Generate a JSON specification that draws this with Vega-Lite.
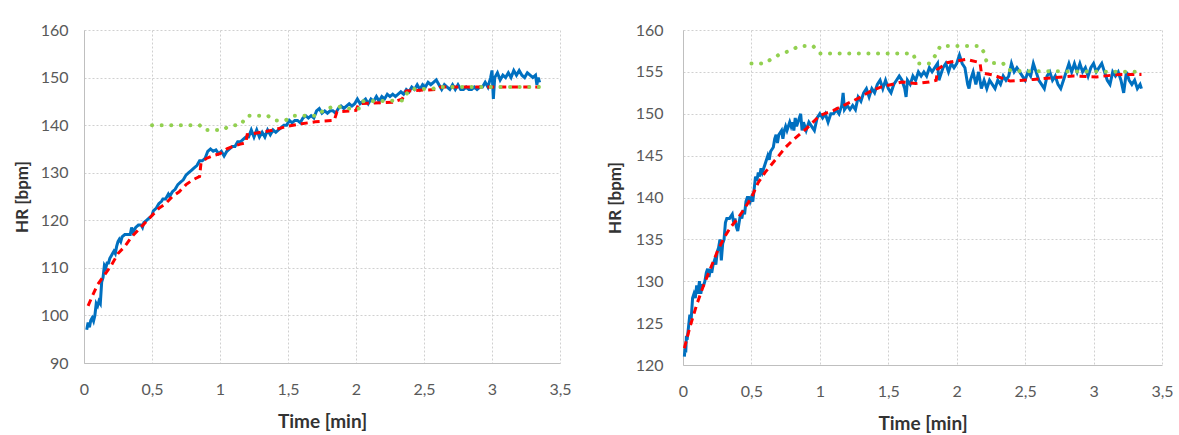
{
  "$schema": "https://vega.github.io/schema/vega-lite/v6.json",
  "padding": {"left": 13, "top": 22, "right": 0, "bottom": 0},
  "background": "white",
  "spacing": 123,
  "bounds": "flush",
  "config": {
    "font": "Lato",
    "view": {"stroke": null},
    "axis": {
      "ticks": false,
      "domainColor": "#bfbfbf",
      "domainWidth": 1,
      "gridColor": "#d0d0d0",
      "gridDash": [2, 2],
      "gridWidth": 1,
      "labelFont": "Lato",
      "labelFontSize": 16,
      "labelColor": "#595959",
      "titleFont": "Lato",
      "titleFontSize": 17,
      "titleFontWeight": "bold",
      "titleColor": "#333333",
      "labelExpr": "replace(toString(datum.value), '.', ',')"
    },
    "axisX": {"titleFontSize": 19, "labelPadding": 18, "titlePadding": 15}
  },
  "datasets": {
    "lb": [
      {"t":0.02,"hr":97},{"t":0.03,"hr":98.5},{"t":0.04,"hr":97.5},{"t":0.05,"hr":99},{"t":0.06,"hr":99.5},{"t":0.07,"hr":98.8},{"t":0.08,"hr":100},{"t":0.09,"hr":102.5},{"t":0.10,"hr":102},{"t":0.11,"hr":103},{"t":0.12,"hr":102.5},{"t":0.13,"hr":107},{"t":0.14,"hr":108},{"t":0.15,"hr":110.5},{"t":0.16,"hr":110},{"t":0.17,"hr":111},{"t":0.18,"hr":111},{"t":0.19,"hr":112},{"t":0.20,"hr":112.5},{"t":0.21,"hr":113},{"t":0.22,"hr":113.5},{"t":0.23,"hr":113},{"t":0.24,"hr":114.5},{"t":0.25,"hr":115.5},{"t":0.26,"hr":116},{"t":0.27,"hr":115.5},{"t":0.28,"hr":116.5},{"t":0.30,"hr":117},{"t":0.32,"hr":117},{"t":0.34,"hr":117},{"t":0.35,"hr":118.5},{"t":0.36,"hr":117.5},{"t":0.38,"hr":118.5},{"t":0.40,"hr":119},{"t":0.42,"hr":119},{"t":0.43,"hr":118.5},{"t":0.44,"hr":119.5},{"t":0.46,"hr":120},{"t":0.48,"hr":120.5},{"t":0.50,"hr":121},{"t":0.51,"hr":122},{"t":0.53,"hr":122.5},{"t":0.55,"hr":123.5},{"t":0.57,"hr":124},{"t":0.58,"hr":124.5},{"t":0.60,"hr":124.5},{"t":0.62,"hr":125.5},{"t":0.63,"hr":125},{"t":0.65,"hr":126},{"t":0.67,"hr":126.5},{"t":0.69,"hr":127.5},{"t":0.71,"hr":128},{"t":0.73,"hr":128.5},{"t":0.75,"hr":129.5},{"t":0.77,"hr":130},{"t":0.79,"hr":130.5},{"t":0.81,"hr":131},{"t":0.83,"hr":131.5},{"t":0.85,"hr":132.5},{"t":0.87,"hr":132.5},{"t":0.89,"hr":133},{"t":0.91,"hr":134.5},{"t":0.93,"hr":135},{"t":0.95,"hr":134.5},{"t":0.97,"hr":134.8},{"t":0.99,"hr":134},{"t":1.01,"hr":134.5},{"t":1.03,"hr":133.5},{"t":1.05,"hr":134.5},{"t":1.07,"hr":135},{"t":1.09,"hr":135.5},{"t":1.11,"hr":135.5},{"t":1.13,"hr":136.5},{"t":1.15,"hr":136.5},{"t":1.17,"hr":137},{"t":1.19,"hr":137.5},{"t":1.21,"hr":137.5},{"t":1.23,"hr":139},{"t":1.25,"hr":137.5},{"t":1.27,"hr":139},{"t":1.29,"hr":137.5},{"t":1.31,"hr":138.5},{"t":1.33,"hr":137.5},{"t":1.35,"hr":139},{"t":1.37,"hr":138},{"t":1.39,"hr":139},{"t":1.41,"hr":138.5},{"t":1.43,"hr":139},{"t":1.45,"hr":139.5},{"t":1.47,"hr":140},{"t":1.49,"hr":140},{"t":1.51,"hr":141},{"t":1.53,"hr":140.5},{"t":1.55,"hr":141},{"t":1.57,"hr":141},{"t":1.59,"hr":140.5},{"t":1.61,"hr":141.5},{"t":1.63,"hr":142},{"t":1.65,"hr":141.5},{"t":1.67,"hr":142},{"t":1.69,"hr":141.5},{"t":1.71,"hr":143},{"t":1.73,"hr":143.5},{"t":1.75,"hr":142.5},{"t":1.77,"hr":143},{"t":1.79,"hr":142.5},{"t":1.81,"hr":143},{"t":1.83,"hr":143},{"t":1.85,"hr":142.5},{"t":1.87,"hr":143.5},{"t":1.89,"hr":144},{"t":1.91,"hr":143.5},{"t":1.93,"hr":144},{"t":1.95,"hr":144.5},{"t":1.97,"hr":144},{"t":1.99,"hr":144.5},{"t":2.01,"hr":145.5},{"t":2.03,"hr":144.5},{"t":2.05,"hr":145},{"t":2.07,"hr":145.5},{"t":2.09,"hr":144.5},{"t":2.11,"hr":145.5},{"t":2.13,"hr":145},{"t":2.15,"hr":146},{"t":2.17,"hr":145},{"t":2.19,"hr":146},{"t":2.21,"hr":145.5},{"t":2.23,"hr":146.5},{"t":2.25,"hr":146},{"t":2.27,"hr":146.5},{"t":2.29,"hr":146},{"t":2.31,"hr":146.5},{"t":2.33,"hr":147},{"t":2.35,"hr":146.5},{"t":2.37,"hr":147.5},{"t":2.39,"hr":147},{"t":2.41,"hr":148},{"t":2.43,"hr":147.5},{"t":2.45,"hr":148.5},{"t":2.47,"hr":147.5},{"t":2.49,"hr":148.5},{"t":2.51,"hr":148},{"t":2.53,"hr":149},{"t":2.55,"hr":148.5},{"t":2.57,"hr":149},{"t":2.59,"hr":149.5},{"t":2.61,"hr":148.5},{"t":2.63,"hr":147.5},{"t":2.65,"hr":148.5},{"t":2.67,"hr":148},{"t":2.69,"hr":147.5},{"t":2.71,"hr":148.5},{"t":2.73,"hr":147.5},{"t":2.75,"hr":148.5},{"t":2.77,"hr":147.5},{"t":2.79,"hr":147.5},{"t":2.81,"hr":148},{"t":2.83,"hr":147.5},{"t":2.85,"hr":147.5},{"t":2.87,"hr":148},{"t":2.89,"hr":147.5},{"t":2.91,"hr":148},{"t":2.93,"hr":148},{"t":2.95,"hr":149},{"t":2.97,"hr":148},{"t":2.99,"hr":150},{"t":3.00,"hr":151.5},{"t":3.01,"hr":145.5},{"t":3.02,"hr":150},{"t":3.04,"hr":151},{"t":3.06,"hr":149.5},{"t":3.08,"hr":150.5},{"t":3.10,"hr":150},{"t":3.12,"hr":151},{"t":3.14,"hr":150},{"t":3.16,"hr":151.5},{"t":3.18,"hr":150.5},{"t":3.20,"hr":151.5},{"t":3.22,"hr":150.5},{"t":3.24,"hr":150},{"t":3.26,"hr":151},{"t":3.28,"hr":150.5},{"t":3.30,"hr":150},{"t":3.32,"hr":150.5},{"t":3.33,"hr":148.5},{"t":3.34,"hr":150},{"t":3.35,"hr":149}
    ],
    "lr": [
      {"t":0.03,"hr":102},{"t":0.06,"hr":104},{"t":0.1,"hr":106.5},{"t":0.15,"hr":108.5},{"t":0.2,"hr":110.5},{"t":0.25,"hr":113},{"t":0.3,"hr":114.5},{"t":0.35,"hr":116.5},{"t":0.4,"hr":118},{"t":0.45,"hr":119.5},{"t":0.5,"hr":121},{"t":0.55,"hr":122.5},{"t":0.6,"hr":123.5},{"t":0.65,"hr":125},{"t":0.7,"hr":126},{"t":0.75,"hr":127.5},{"t":0.8,"hr":128.5},{"t":0.85,"hr":129.2},{"t":0.86,"hr":132},{"t":0.9,"hr":133},{"t":0.95,"hr":133.6},{"t":1.0,"hr":134},{"t":1.05,"hr":135},{"t":1.1,"hr":135.6},{"t":1.15,"hr":136},{"t":1.19,"hr":136.3},{"t":1.2,"hr":138},{"t":1.3,"hr":138.5},{"t":1.4,"hr":139},{"t":1.5,"hr":139.8},{"t":1.6,"hr":140.3},{"t":1.7,"hr":140.7},{"t":1.84,"hr":141},{"t":1.86,"hr":142.8},{"t":2.0,"hr":143.1},{"t":2.02,"hr":144.5},{"t":2.27,"hr":144.8},{"t":2.34,"hr":145.5},{"t":2.37,"hr":147.2},{"t":2.6,"hr":147.5},{"t":2.62,"hr":148},{"t":3.35,"hr":148}
    ],
    "lg": [
      {"t":0.5,"hr":140},{"t":0.85,"hr":140},{"t":0.88,"hr":139},{"t":1.02,"hr":139},{"t":1.05,"hr":139.5},{"t":1.1,"hr":140},{"t":1.15,"hr":140},{"t":1.2,"hr":142},{"t":1.35,"hr":142},{"t":1.4,"hr":141},{"t":1.48,"hr":141},{"t":1.52,"hr":141.5},{"t":1.55,"hr":142},{"t":1.72,"hr":142},{"t":1.77,"hr":143.4},{"t":1.86,"hr":144},{"t":1.93,"hr":143.5},{"t":2.03,"hr":143.5},{"t":2.05,"hr":145},{"t":2.35,"hr":145.2},{"t":2.38,"hr":147},{"t":2.4,"hr":147.6},{"t":2.56,"hr":147.6},{"t":2.6,"hr":148},{"t":3.35,"hr":148}
    ],
    "rb": [
      {"t":0.01,"hr":121},{"t":0.015,"hr":122},{"t":0.02,"hr":121.5},{"t":0.025,"hr":123.5},{"t":0.03,"hr":123},{"t":0.04,"hr":124.5},{"t":0.05,"hr":126},{"t":0.06,"hr":125.5},{"t":0.07,"hr":128},{"t":0.08,"hr":128.5},{"t":0.09,"hr":128},{"t":0.10,"hr":129.5},{"t":0.11,"hr":128.5},{"t":0.12,"hr":130},{"t":0.13,"hr":128.5},{"t":0.14,"hr":129.5},{"t":0.15,"hr":129.5},{"t":0.16,"hr":130},{"t":0.17,"hr":131},{"t":0.18,"hr":131.5},{"t":0.19,"hr":130.5},{"t":0.20,"hr":131.5},{"t":0.21,"hr":131},{"t":0.22,"hr":132},{"t":0.23,"hr":132.5},{"t":0.24,"hr":132},{"t":0.25,"hr":133.5},{"t":0.26,"hr":134},{"t":0.27,"hr":135},{"t":0.28,"hr":132.5},{"t":0.29,"hr":134.5},{"t":0.30,"hr":135},{"t":0.31,"hr":137},{"t":0.32,"hr":137.5},{"t":0.34,"hr":137.5},{"t":0.36,"hr":138},{"t":0.37,"hr":137},{"t":0.38,"hr":137.5},{"t":0.39,"hr":136.5},{"t":0.40,"hr":136},{"t":0.41,"hr":137},{"t":0.42,"hr":138},{"t":0.43,"hr":137.5},{"t":0.44,"hr":138.5},{"t":0.45,"hr":138},{"t":0.46,"hr":139.5},{"t":0.47,"hr":140},{"t":0.48,"hr":140},{"t":0.49,"hr":139.5},{"t":0.50,"hr":140},{"t":0.51,"hr":139.5},{"t":0.52,"hr":141},{"t":0.53,"hr":142.5},{"t":0.54,"hr":142},{"t":0.55,"hr":143},{"t":0.56,"hr":142.5},{"t":0.57,"hr":143.5},{"t":0.58,"hr":143},{"t":0.60,"hr":144},{"t":0.62,"hr":145},{"t":0.63,"hr":144.5},{"t":0.64,"hr":145.5},{"t":0.66,"hr":146},{"t":0.67,"hr":147},{"t":0.68,"hr":147.5},{"t":0.69,"hr":146.5},{"t":0.70,"hr":147.5},{"t":0.72,"hr":148},{"t":0.73,"hr":147},{"t":0.74,"hr":148},{"t":0.75,"hr":148.5},{"t":0.76,"hr":148},{"t":0.77,"hr":148.5},{"t":0.78,"hr":149},{"t":0.79,"hr":148.5},{"t":0.80,"hr":149},{"t":0.81,"hr":148},{"t":0.82,"hr":149.5},{"t":0.83,"hr":148.5},{"t":0.85,"hr":149.5},{"t":0.86,"hr":150},{"t":0.87,"hr":148},{"t":0.88,"hr":149},{"t":0.89,"hr":148.5},{"t":0.90,"hr":148},{"t":0.92,"hr":149},{"t":0.94,"hr":148.5},{"t":0.96,"hr":148},{"t":0.98,"hr":149.5},{"t":1.00,"hr":150},{"t":1.02,"hr":149.5},{"t":1.04,"hr":150},{"t":1.06,"hr":149},{"t":1.08,"hr":150},{"t":1.10,"hr":150},{"t":1.12,"hr":150.5},{"t":1.14,"hr":150},{"t":1.16,"hr":151},{"t":1.17,"hr":152.5},{"t":1.18,"hr":150.5},{"t":1.20,"hr":151},{"t":1.22,"hr":150.5},{"t":1.24,"hr":151},{"t":1.26,"hr":150.5},{"t":1.28,"hr":152},{"t":1.30,"hr":151.5},{"t":1.32,"hr":152.5},{"t":1.34,"hr":153},{"t":1.36,"hr":152},{"t":1.38,"hr":153},{"t":1.40,"hr":152.5},{"t":1.42,"hr":153.5},{"t":1.44,"hr":154},{"t":1.46,"hr":153},{"t":1.48,"hr":154},{"t":1.50,"hr":153},{"t":1.52,"hr":152.5},{"t":1.54,"hr":153.5},{"t":1.56,"hr":154},{"t":1.58,"hr":154.5},{"t":1.60,"hr":154},{"t":1.62,"hr":153},{"t":1.63,"hr":152},{"t":1.64,"hr":154},{"t":1.66,"hr":153.5},{"t":1.68,"hr":154.5},{"t":1.70,"hr":154},{"t":1.72,"hr":155},{"t":1.74,"hr":154.5},{"t":1.76,"hr":155},{"t":1.78,"hr":154.5},{"t":1.80,"hr":155.5},{"t":1.82,"hr":155},{"t":1.84,"hr":155.5},{"t":1.86,"hr":156},{"t":1.87,"hr":154},{"t":1.88,"hr":154.5},{"t":1.90,"hr":155.5},{"t":1.92,"hr":156},{"t":1.94,"hr":155},{"t":1.96,"hr":156},{"t":1.98,"hr":155.5},{"t":2.00,"hr":156},{"t":2.02,"hr":157},{"t":2.04,"hr":156},{"t":2.06,"hr":155.5},{"t":2.08,"hr":153.5},{"t":2.09,"hr":153},{"t":2.10,"hr":154},{"t":2.12,"hr":155},{"t":2.14,"hr":153.5},{"t":2.16,"hr":155},{"t":2.18,"hr":153},{"t":2.20,"hr":154},{"t":2.22,"hr":153},{"t":2.24,"hr":154},{"t":2.26,"hr":153.5},{"t":2.28,"hr":153},{"t":2.30,"hr":154},{"t":2.32,"hr":153.5},{"t":2.34,"hr":154.5},{"t":2.36,"hr":154},{"t":2.38,"hr":154.5},{"t":2.40,"hr":156},{"t":2.42,"hr":155},{"t":2.44,"hr":155.5},{"t":2.46,"hr":155},{"t":2.48,"hr":154.5},{"t":2.50,"hr":154},{"t":2.52,"hr":155},{"t":2.54,"hr":154.5},{"t":2.56,"hr":156},{"t":2.58,"hr":155},{"t":2.60,"hr":154},{"t":2.62,"hr":153.5},{"t":2.64,"hr":153},{"t":2.66,"hr":154.5},{"t":2.68,"hr":155},{"t":2.70,"hr":154},{"t":2.72,"hr":154.5},{"t":2.74,"hr":153.5},{"t":2.76,"hr":153},{"t":2.78,"hr":154},{"t":2.80,"hr":155},{"t":2.82,"hr":156},{"t":2.84,"hr":155},{"t":2.86,"hr":156},{"t":2.88,"hr":155},{"t":2.90,"hr":156},{"t":2.92,"hr":155},{"t":2.94,"hr":155.5},{"t":2.96,"hr":154.5},{"t":2.98,"hr":155.5},{"t":3.00,"hr":156},{"t":3.02,"hr":155},{"t":3.04,"hr":155.5},{"t":3.06,"hr":156},{"t":3.08,"hr":155},{"t":3.10,"hr":154},{"t":3.12,"hr":153.5},{"t":3.14,"hr":155},{"t":3.16,"hr":154.5},{"t":3.18,"hr":155},{"t":3.20,"hr":154},{"t":3.22,"hr":152.5},{"t":3.24,"hr":155},{"t":3.26,"hr":154},{"t":3.28,"hr":153.5},{"t":3.30,"hr":154},{"t":3.32,"hr":153},{"t":3.34,"hr":153.5},{"t":3.35,"hr":153}
    ],
    "rr": [
      {"t":0.01,"hr":122},{"t":0.05,"hr":124.5},{"t":0.1,"hr":127.2},{"t":0.15,"hr":129.5},{"t":0.2,"hr":131.5},{"t":0.25,"hr":133.5},{"t":0.3,"hr":135.2},{"t":0.35,"hr":136.5},{"t":0.4,"hr":137.5},{"t":0.45,"hr":138.7},{"t":0.5,"hr":140},{"t":0.55,"hr":141.8},{"t":0.6,"hr":143},{"t":0.65,"hr":144},{"t":0.7,"hr":145},{"t":0.75,"hr":146},{"t":0.8,"hr":146.8},{"t":0.85,"hr":147.5},{"t":0.9,"hr":148.2},{"t":0.95,"hr":149},{"t":1.0,"hr":149.8},{"t":1.05,"hr":150.1},{"t":1.1,"hr":150.4},{"t":1.15,"hr":150.8},{"t":1.2,"hr":151.2},{"t":1.25,"hr":151.6},{"t":1.3,"hr":152},{"t":1.35,"hr":152.5},{"t":1.4,"hr":152.9},{"t":1.45,"hr":153.2},{"t":1.5,"hr":153.4},{"t":1.6,"hr":153.8},{"t":1.7,"hr":153.6},{"t":1.8,"hr":153.8},{"t":1.85,"hr":154},{"t":1.86,"hr":155.3},{"t":1.93,"hr":156.1},{"t":2.0,"hr":156.3},{"t":2.07,"hr":156.5},{"t":2.17,"hr":156.1},{"t":2.18,"hr":154.9},{"t":2.27,"hr":154.6},{"t":2.39,"hr":153.9},{"t":2.56,"hr":154.1},{"t":2.71,"hr":154.3},{"t":2.85,"hr":154.5},{"t":3.02,"hr":154.4},{"t":3.19,"hr":154.7},{"t":3.35,"hr":154.7}
    ],
    "rg": [
      {"t":0.5,"hr":156},{"t":0.6,"hr":156},{"t":0.65,"hr":156.6},{"t":0.72,"hr":157.2},{"t":0.78,"hr":157.5},{"t":0.85,"hr":158.1},{"t":0.95,"hr":158.1},{"t":1.0,"hr":157.2},{"t":1.68,"hr":157.2},{"t":1.71,"hr":156},{"t":1.8,"hr":156},{"t":1.85,"hr":157.1},{"t":1.88,"hr":158.1},{"t":2.17,"hr":158.1},{"t":2.2,"hr":157.3},{"t":2.22,"hr":156.1},{"t":2.34,"hr":156},{"t":2.37,"hr":155.3},{"t":2.41,"hr":155.1},{"t":3.34,"hr":155}
    ]
  },
  "hconcat": [
    {
      "width": 476,
      "height": 333,
      "encoding": {
        "x": {"field": "t", "type": "quantitative", "scale": {"domain": [0, 3.5], "nice": false},
              "axis": {"title": "Time [min]", "values": [0, 0.5, 1, 1.5, 2, 2.5, 3, 3.5], "labelFlush": false}},
        "y": {"field": "hr", "type": "quantitative", "scale": {"domain": [90, 160], "nice": false, "zero": false},
              "axis": {"title": "HR [bpm]", "values": [90, 100, 110, 120, 130, 140, 150, 160], "labelPadding": 16, "titlePadding": 9}}
      },
      "layer": [
        {"data": {"name": "lb"}, "mark": {"type": "line", "color": "#0070C0", "strokeWidth": 3}},
        {"data": {"name": "lr"}, "mark": {"type": "line", "color": "#FF0000", "strokeWidth": 3, "strokeDash": [7, 5]}},
        {"data": {"name": "lg"}, "mark": {"type": "line", "color": "#92D050", "strokeWidth": 4, "strokeDash": [0.1, 9.5], "strokeCap": "round"}}
      ]
    },
    {
      "width": 479,
      "height": 335,
      "encoding": {
        "x": {"field": "t", "type": "quantitative", "scale": {"domain": [0, 3.5], "nice": false},
              "axis": {"title": "Time [min]", "values": [0, 0.5, 1, 1.5, 2, 2.5, 3, 3.5], "labelFlush": false}},
        "y": {"field": "hr", "type": "quantitative", "scale": {"domain": [120, 160], "nice": false, "zero": false},
              "axis": {"title": "HR [bpm]", "values": [120, 125, 130, 135, 140, 145, 150, 155, 160], "labelPadding": 20, "titlePadding": 11}}
      },
      "layer": [
        {"data": {"name": "rb"}, "mark": {"type": "line", "color": "#0070C0", "strokeWidth": 3}},
        {"data": {"name": "rr"}, "mark": {"type": "line", "color": "#FF0000", "strokeWidth": 3, "strokeDash": [7, 5]}},
        {"data": {"name": "rg"}, "mark": {"type": "line", "color": "#92D050", "strokeWidth": 4, "strokeDash": [0.1, 9.5], "strokeCap": "round"}}
      ]
    }
  ]
}
